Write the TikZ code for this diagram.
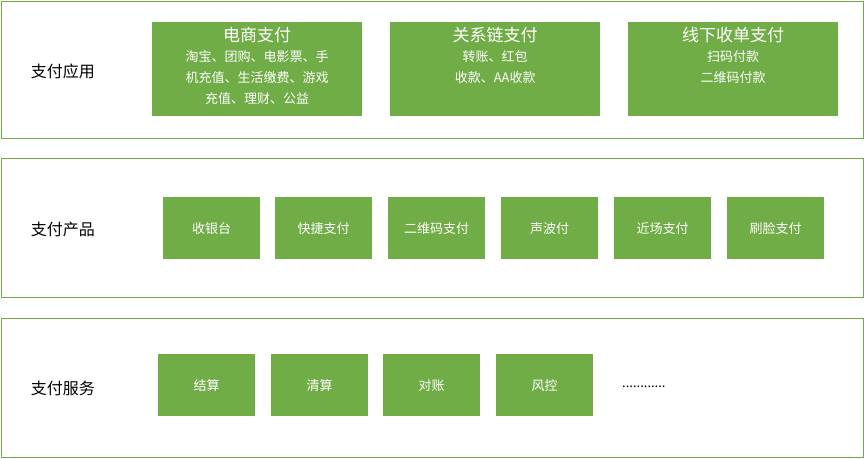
\documentclass[tikz,border=0pt]{standalone}
\usepackage{fontspec}
\setmainfont{Noto Sans CJK SC}
\definecolor{paygreen}{RGB}{112,173,71}
\tikzset{
  layer/.style={draw=paygreen, line width=0.8pt, anchor=north west, inner sep=0pt},
  layertitle/.style={anchor=west, inner sep=0.75pt, font=\fontsize{16}{18}\selectfont},
  appbox/.style={fill=paygreen, anchor=north west, inner sep=0pt, minimum width=210, minimum height=94},
  prodbox/.style={fill=paygreen, anchor=north west, inner sep=0pt, minimum width=97, minimum height=62,
    text=white, font=\fontsize{13}{15}\selectfont},
}
\begin{document}
\begin{tikzpicture}[x=1pt,y=-1pt]
		\useasboundingbox (0,0) rectangle (864,458);
		% layers
		\node [layer, minimum width=862, minimum height=137] (appl) at (0.5,0.5) {};
		\node [layer, minimum width=862, minimum height=139] (prodl) at (0.5,158) {};
		\node [layer, minimum width=862, minimum height=139] (servl) at (0.5,318) {};
		\node [layertitle] (appt) at (30,71) {支付应用};
		\node [layertitle] (prodt) at (30,229) {支付产品};
		\node [layertitle] (servt) at (30,388) {支付服务};
		
		% applications
		\node [appbox] (ecom) at (152,22) {};
		\node [appbox] (social) at (390,22) {};
		\node [appbox] (offline) at (628,22) {};
		\node [text=white, align=center, anchor=north, font=\fontsize{17}{19}\selectfont] (ecomt) at ([yshift=-2]ecom.north) {电商支付};
		\node [text=white, align=center, anchor=north, font=\fontsize{13}{21}\selectfont] (ecoms) at (ecomt.south) {淘宝、团购、电影票、手\\机充值、生活缴费、游戏\\充值、理财、公益};
		\node [text=white, align=center, anchor=north, font=\fontsize{17}{19}\selectfont] (socialt) at ([yshift=-2]social.north) {关系链支付};
		\node [text=white, align=center, anchor=north, font=\fontsize{13}{21}\selectfont] (socials) at (socialt.south) {转账、红包\\收款、AA收款};
		\node [text=white, align=center, anchor=north, font=\fontsize{17}{19}\selectfont] (offlinet) at ([yshift=-2]offline.north) {线下收单支付};
		\node [text=white, align=center, anchor=north, font=\fontsize{13}{21}\selectfont] (offlines) at (offlinet.south) {扫码付款\\二维码付款};
		
		% products
		\node [prodbox] (cashier) at (163,197) {收银台};
		\node [prodbox] (quick) at (275,197) {快捷支付};
		\node [prodbox] (qrcode) at (388,197) {二维码支付};
		\node [prodbox] (sonic) at (501,197) {声波付};
		\node [prodbox] (nfc) at (614,197) {近场支付};
		\node [prodbox] (face) at (727,197) {刷脸支付};
		
		% services
		\node [prodbox] (settle) at (158,354) {结算};
		\node [prodbox] (clear) at (271,354) {清算};
		\node [prodbox] (recon) at (383,354) {对账};
		\node [prodbox] (risk) at (496,354) {风控};
		\node [anchor=west, inner sep=0pt, font=\fontsize{13}{15}\selectfont] (more) at (622,387) {............};
	\end{tikzpicture}
\end{document}
